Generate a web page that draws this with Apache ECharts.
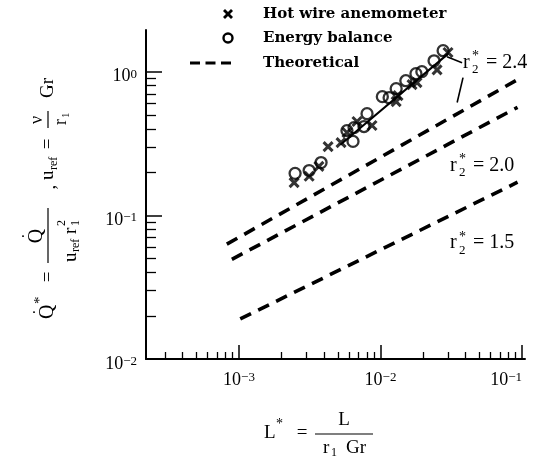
<!DOCTYPE html>
<html><head><meta charset="utf-8">
<script src="https://cdn.jsdelivr.net/npm/echarts@6/dist/echarts.min.js"></script>
<style>html,body{margin:0;padding:0;background:#fff}#c{width:541px;height:470px}</style>
</head><body><div id="c"></div>
<script>
// ---- data ----
const hotWireL = [2.45e-3, 3.13e-3, 3.67e-3, 4.26e-3, 5.26e-3, 5.79e-3, 6.82e-3, 8.71e-3, 1.29e-2, 1.33e-2, 1.67e-2, 1.81e-2, 2.51e-2, 3.00e-2];
const hotWireQ = [0.169, 0.187, 0.219, 0.301, 0.321, 0.377, 0.450, 0.422, 0.619, 0.681, 0.813, 0.839, 1.03, 1.36];
const energyL = [2.49e-3, 3.13e-3, 3.80e-3, 5.79e-3, 6.39e-3, 6.50e-3, 7.64e-3, 8.03e-3, 1.03e-2, 1.15e-2, 1.29e-2, 1.51e-2, 1.78e-2, 1.96e-2, 2.39e-2, 2.77e-2];
const energyQ = [0.196, 0.205, 0.233, 0.389, 0.327, 0.408, 0.415, 0.510, 0.670, 0.659, 0.762, 0.865, 0.968, 1.00, 1.19, 1.40];
const fitL = [5.2e-3, 3.0e-2];
const fitQ = [0.31, 1.33];
const theoryNames = ['2.4', '2.0', '1.5'];
const theoryL = [[8.2e-4, 0.093], [8.9e-4, 0.093], [1.02e-3, 0.093]];
const theoryQ = [[0.063, 0.88], [0.0494, 0.565], [0.0190, 0.170]];
const labelL = [0.0383, 0.031, 0.031];
const labelQ = [1.155, 0.222, 0.064];
const leaderL = [[0.0295, 0.0377], [0.0348, 0.0383]];
const leaderQ = [[1.27, 1.155], [0.61, 0.908]];
const xMajorTicks = [1e-3, 1e-2, 1e-1];
const yMajorTicks = [1e-2, 1e-1, 1e0];
const legendNames = ['Hot wire anemometer', 'Energy balance', 'Theoretical'];
const X_MIN = 2.2e-4, X_MAX = 0.105, Y_MIN = 0.01, Y_MAX = 1.95;

function minors(lo, hi) {
  const out = [];
  for (let e = -5; e <= 1; e++) for (let m = 2; m <= 9; m++) {
    const v = m * Math.pow(10, e);
    if (v > lo * 1.0001 && v < hi * 0.9999) out.push(+v.toPrecision(3));
  }
  return out;
}
const xMinorTicks = minors(X_MIN, X_MAX);
const yMinorTicks = minors(Y_MIN, Y_MAX);

const SERIF = '"Liberation Serif", "DejaVu Serif", serif';
function powLabel(v) {
  const e = Math.round(Math.log10(v));
  return '{b|10}{s|' + (e < 0 ? '\u2212' + (-e) : e) + '}';
}
const labelRich = {
  b: { fontSize: 18, fontFamily: SERIF, color: '#000', verticalAlign: 'bottom' },
  s: { fontSize: 13, fontFamily: SERIF, color: '#000', verticalAlign: 'top' }
};
const zip = (a, b) => a.map((v, i) => [v, b[i]]);

const chart = echarts.init(document.getElementById('c'), null, { renderer: 'canvas' });
const axisLineStyle = { color: '#000', width: 2 };
const series = [
  {
    name: legendNames[0], type: 'scatter', data: zip(hotWireL, hotWireQ),
    symbol: 'path://M0,0L10,10M10,0L0,10', symbolSize: 9,
    itemStyle: { color: 'rgba(0,0,0,0)', borderColor: '#000', borderWidth: 3 }, z: 4
  },
  {
    name: legendNames[1], type: 'scatter', data: zip(energyL, energyQ),
    symbol: 'circle', symbolSize: 11,
    itemStyle: { color: 'rgba(0,0,0,0)', borderColor: '#000', borderWidth: 2.3 }, z: 5
  },
  {
    name: 'fit', type: 'line', data: zip(fitL, fitQ), symbol: 'none',
    lineStyle: { color: '#000', width: 2 }, z: 3
  }
];
theoryL.forEach((ls, i) => series.push({
  name: legendNames[2], id: 'theory' + theoryNames[i], type: 'line', data: zip(ls, theoryQ[i]), symbol: 'none',
  lineStyle: { color: '#000', width: 3.6, type: [12, 8], cap: 'butt' }, z: 3
}));
leaderL.forEach((ls, i) => series.push({
  name: 'leader' + i, type: 'line', data: zip(ls, leaderQ[i]), symbol: 'none',
  lineStyle: { color: '#000', width: 1.6 }, z: 3
}));

chart.setOption({
  animation: false,
  backgroundColor: '#fff',
  grid: { left: 146, right: 16, top: 30, bottom: 111, containLabel: false },
  xAxis: [
    {
      type: 'log', min: X_MIN, max: X_MAX, position: 'bottom',
      axisLine: { lineStyle: axisLineStyle },
      axisTick: { inside: true, length: 14, customValues: xMajorTicks, lineStyle: { color: '#000', width: 1.5 } },
      axisLabel: { customValues: xMajorTicks, margin: 12, formatter: powLabel, rich: labelRich, alignMaxLabel: 'right' },
      splitLine: { show: false }, minorSplitLine: { show: false }
    },
    {
      type: 'log', min: X_MIN, max: X_MAX, position: 'bottom', offset: 0,
      axisLine: { show: false },
      axisTick: { inside: true, length: 7, customValues: xMinorTicks, lineStyle: { color: '#000', width: 1.3 } },
      axisLabel: { show: false }, splitLine: { show: false }
    }
  ],
  yAxis: [
    {
      type: 'log', min: Y_MIN, max: Y_MAX, position: 'left',
      axisLine: { lineStyle: axisLineStyle },
      axisTick: { inside: true, length: 16, customValues: yMajorTicks, lineStyle: { color: '#000', width: 1.5 } },
      axisLabel: { customValues: yMajorTicks, margin: 9, formatter: powLabel, rich: labelRich, padding: [10, 0, 0, 0] },
      splitLine: { show: false }
    },
    {
      type: 'log', min: Y_MIN, max: Y_MAX, position: 'left', offset: 0,
      axisLine: { show: false },
      axisTick: { inside: true, length: 10, customValues: yMinorTicks, lineStyle: { color: '#000', width: 1.3 } },
      axisLabel: { show: false }, splitLine: { show: false }
    }
  ],
  series: series
});

// ---- text / annotations ----
function T(text, x, y, size, align, weight, family) {
  return {
    type: 'text', x: x, y: y, silent: true,
    style: {
      text: text, fill: '#000',
      font: (weight || 'normal') + ' ' + (size || 19) + 'px ' + (family || SERIF),
      align: align || 'center', textAlign: align || 'center',
      verticalAlign: 'middle', textVerticalAlign: 'middle'
    }
  };
}
function L(x1, y1, x2, y2, w) {
  return { type: 'line', silent: true, shape: { x1: x1, y1: y1, x2: x2, y2: y2 }, style: { stroke: '#000', lineWidth: w || 1.3 } };
}

const graphics = [];
// legend
const LEG = '"DejaVu Serif", serif';
graphics.push(L(224, 10, 232, 18, 2.8), L(232, 10, 224, 18, 2.8));
graphics.push({ type: 'circle', silent: true, shape: { cx: 228, cy: 38, r: 4.5 }, style: { fill: 'none', stroke: '#000', lineWidth: 2.4 } });
graphics.push({ type: 'line', silent: true, shape: { x1: 190, y1: 63, x2: 231, y2: 63 }, style: { stroke: '#000', lineWidth: 3.2, lineDash: [10, 5.5] } });
graphics.push(T(legendNames[0], 263, 14, 15, 'left', 'bold', LEG));
graphics.push(T(legendNames[1], 263, 38, 15, 'left', 'bold', LEG));
graphics.push(T(legendNames[2], 263, 63, 15, 'left', 'bold', LEG));

// r2* labels
theoryNames.forEach((nm, i) => {
  const p = chart.convertToPixel({ xAxisIndex: 0, yAxisIndex: 0 }, [labelL[i], labelQ[i]]);
  graphics.push({
    type: 'group', x: p[0], y: p[1], children: [
      T('r', 0, 0, 20, 'left'),
      T('*', 9, -6, 14, 'left'),
      T('2', 9, 7, 13, 'left'),
      T('= ' + nm, 23, 0, 20, 'left')
    ]
  });
});

// x-axis title
graphics.push({
  type: 'group', x: 0, y: 0, children: [
    T('L', 264, 433, 19, 'left'),
    T('*', 276, 424, 14, 'left'),
    T('=', 302, 433, 19, 'center'),
    L(315, 434, 373, 434, 1.2),
    T('L', 344, 420, 19, 'center'),
    T('r', 323, 448, 19, 'left'),
    T('1', 331, 453, 12, 'left'),
    T('Gr', 346, 448, 19, 'left')
  ]
});

// y-axis title (rotated, reads bottom to top)
graphics.push({
  type: 'group', x: 48, y: 320, rotation: Math.PI / 2, children: [
    T('Q', 1, 0, 20, 'left'),
    T('\u2022', 8, -13, 8, 'center'),
    T('*', 16, -8, 15, 'left'),
    T('=', 43, 0, 19, 'center'),
    L(57, 0, 112, 0, 1.2),
    T('Q', 84, -11, 20, 'center'),
    T('\u2022', 84, -24, 8, 'center'),
    T('u', 58, 23, 19, 'left'),
    T('ref', 68, 28, 12, 'left'),
    T('r', 86, 23, 19, 'left'),
    T('1', 94, 28, 12, 'left'),
    T('2', 94, 14, 12, 'left'),
    T(',', 133, 2, 19, 'center'),
    T('u', 140, 0, 19, 'left'),
    T('ref', 150, 6, 12, 'left'),
    T('=', 176, 0, 19, 'center'),
    L(192, 0, 209, 0, 1.2),
    T('\u03BD', 200, -11, 18, 'center'),
    T('r', 195, 13, 18, 'left'),
    T('1', 202, 18, 11, 'left'),
    T('Gr', 222, 0, 19, 'left')
  ]
});

chart.setOption({ graphic: graphics });
</script>
</body></html>
